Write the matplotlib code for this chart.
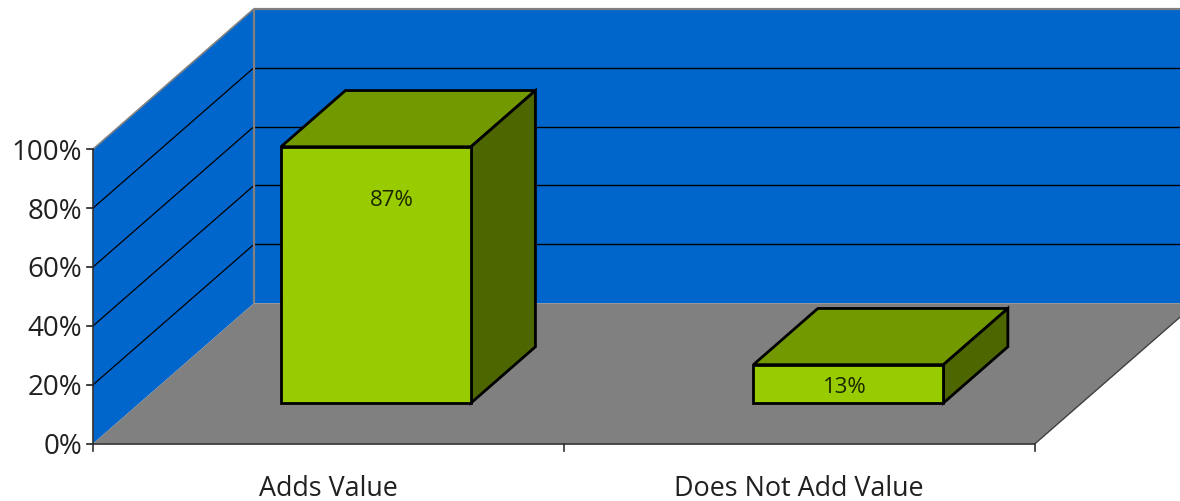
import matplotlib
matplotlib.use("Agg")
import matplotlib.pyplot as plt
from matplotlib.patches import Polygon

categories = ["Adds Value", "Does Not Add Value"]
values = [87, 13]
value_labels = ["87%", "13%"]
y_ticks = [0, 20, 40, 60, 80, 100]
y_tick_labels = ["0%", "20%", "40%", "60%", "80%", "100%"]

BLUE = "#0066CC"
GRAY = "#808080"
FRONT = "#99CC00"
TOP = "#739900"
SIDE = "#4D6600"

plt.rcParams["font.family"] = ["Open Sans", "DejaVu Sans"]

# oblique projection: category axis (0..n), value (0..100), depth (0..1) -> pixels
X0, Y0 = 93.0, 444.7
CAT_W = 471.0
VAL_H = 2.945
DX, DY = 161.0, -140.5


def proj(c, v, d=0.0):
    return (X0 + c * CAT_W + d * DX, Y0 - v * VAL_H + d * DY)


fig = plt.figure(figsize=(11.8, 5.02), dpi=100)
ax = fig.add_axes([0, 0, 1, 1])
ax.set_xlim(0, 1180)
ax.set_ylim(502, 0)
ax.axis("off")
n = len(categories)


def face(pts, fc, ec="none", lw=0, z=1):
    ax.add_patch(Polygon([proj(*p) for p in pts], closed=True, fc=fc, ec=ec, lw=lw, zorder=z, joinstyle="miter"))


def line(a, b, color="black", lw=1.0, z=2):
    pa, pb = proj(*a), proj(*b)
    ax.plot([pa[0], pb[0]], [pa[1], pb[1]], color=color, lw=lw, zorder=z, solid_capstyle="butt")


# walls and floor
face([(0, 0, 1), (3, 0, 1), (3, 100, 1), (0, 100, 1)], BLUE)
face([(0, 0, 0), (0, 0, 1), (0, 100, 1), (0, 100, 0)], BLUE)
face([(0, 0, 0), (n, 0, 0), (n, 0, 1), (3, 0, 1), (0, 0, 1)], GRAY)

# gridlines
for t in y_ticks[1:-1]:
    line((0, t, 0), (0, t, 1), lw=0.9)
    line((0, t, 1), (3, t, 1), lw=1.0)

# wall edges
line((0, 100, 0), (0, 100, 1), color=GRAY, lw=1.2)
line((0, 100, 1), (3, 100, 1), color=GRAY, lw=1.6)
line((0, 0, 1), (0, 100, 1), color=GRAY, lw=1.6)
line((n, 0, 0), (n, 0, 1), color="#404040", lw=1.0)

# axes
line((0, 0, 0), (n, 0, 0), color="#303030", lw=1.2, z=3)
line((0, 0, 0), (0, 100, 0), color="#303030", lw=1.2, z=3)
for t, lab in zip(y_ticks, y_tick_labels):
    x, y = proj(0, t)
    ax.plot([x - 6, x], [y, y], color="#202020", lw=1.2, zorder=3)
    ax.text(x - 11, y + 2.5, lab, ha="right", va="center", fontsize=20, color="#202020")
for i in range(n + 1):
    x, y = proj(i, 0)
    ax.plot([x, x], [y, y + 7], color="#303030", lw=1.2, zorder=3)
for i, lab in enumerate(categories):
    x, y = proj(i + 0.5, 0)
    ax.text(x - 0.5, 489, lab, ha="center", va="center", fontsize=19.4, color="#202020")

# bars
bar_lo = [0.3, 0.303]
bar_hi = [0.7035, 0.7065]
d0, d1 = 0.29, 0.69
label_dx = [16, -4]
label_dy = [53, 22]
for i, (v, lab) in enumerate(zip(values, value_labels)):
    l, r = i + bar_lo[i], i + bar_hi[i]
    kw = dict(ec="black", lw=2.0, z=5)
    face([(l, v, d0), (r, v, d0), (r, v, d1), (l, v, d1)], TOP, **kw)
    face([(r, 0, d0), (r, 0, d1), (r, v, d1), (r, v, d0)], SIDE, **kw)
    face([(l, 0, d0), (r, 0, d0), (r, v, d0), (l, v, d0)], FRONT, **kw)
    px, py = proj((l + r) / 2, v, d0)
    ax.text(px + label_dx[i], py + label_dy[i], lab, ha="center", va="center",
            fontsize=16, color="#1a2600", zorder=6)

fig.savefig("out.png", dpi=100)
